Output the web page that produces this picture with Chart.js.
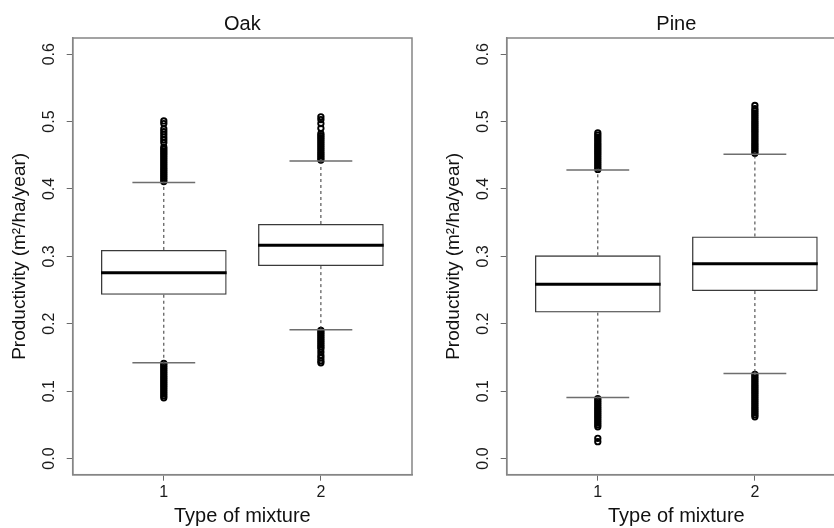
<!DOCTYPE html>
<html>
<head>
<meta charset="utf-8">
<script src="https://cdn.jsdelivr.net/npm/chart.js@4.4.0/dist/chart.umd.min.js"></script>
<style>
  html, body { margin: 0; padding: 0; background: #fff; overflow: hidden; }
  #wrap { position: relative; width: 834px; height: 528px; overflow: hidden; }
  .panel { position: absolute; top: 0; width: 434px; height: 528px; }
</style>
</head>
<body>
<div id="wrap">
  <div class="panel" style="left:0"><canvas id="oak" width="434" height="528"></canvas></div>
  <div class="panel" style="left:434px"><canvas id="pine" width="434" height="528"></canvas></div>
</div>
<script>
// categories and ticks
const mixtureTypes = [1, 2];
const yTicks = [0, 0.1, 0.2, 0.3, 0.4, 0.5, 0.6];

// Oak box stats (per mixture type)
const oakLower = [0.142, 0.191];
const oakQ1 = [0.243, 0.2855];
const oakMedian = [0.2755, 0.3165];
const oakQ3 = [0.3095, 0.348];
const oakUpper = [0.4095, 0.4415];
const oakOutliers1 = [0.411, 0.414, 0.417, 0.420, 0.423, 0.426, 0.429, 0.432, 0.435, 0.438, 0.441, 0.444,
  0.447, 0.450, 0.453, 0.456, 0.459, 0.462, 0.469, 0.473, 0.477, 0.481, 0.485, 0.489, 0.497, 0.501,
  0.141, 0.138, 0.135, 0.132, 0.129, 0.126, 0.123, 0.120, 0.117, 0.114, 0.111, 0.108, 0.105, 0.102,
  0.099, 0.096, 0.093, 0.090];
const oakOutliers2 = [0.443, 0.446, 0.449, 0.452, 0.455, 0.458, 0.461, 0.464, 0.467, 0.470, 0.473, 0.476,
  0.479, 0.482, 0.490, 0.497, 0.503, 0.507,
  0.190, 0.187, 0.184, 0.181, 0.178, 0.175, 0.172, 0.169, 0.166, 0.163, 0.158, 0.153, 0.149, 0.145, 0.142];

// Pine box stats
const pineLower = [0.0905, 0.126];
const pineQ1 = [0.2165, 0.2485];
const pineMedian = [0.2585, 0.289];
const pineQ3 = [0.3015, 0.3295];
const pineUpper = [0.428, 0.4515];
const pineOutliers1 = [0.429, 0.432, 0.435, 0.438, 0.441, 0.444, 0.447, 0.450, 0.453, 0.456, 0.459, 0.462,
  0.465, 0.468, 0.471, 0.474, 0.477, 0.480, 0.483,
  0.089, 0.086, 0.083, 0.080, 0.077, 0.074, 0.071, 0.068, 0.065, 0.062, 0.059, 0.056, 0.053, 0.050,
  0.047, 0.030, 0.025];
const pineOutliers2 = [0.453, 0.456, 0.459, 0.462, 0.465, 0.468, 0.471, 0.474, 0.477, 0.480, 0.483, 0.486,
  0.489, 0.492, 0.495, 0.498, 0.501, 0.504, 0.507, 0.510, 0.513, 0.516, 0.519, 0.524,
  0.125, 0.122, 0.119, 0.116, 0.113, 0.110, 0.107, 0.104, 0.101, 0.098, 0.095, 0.092, 0.089, 0.086,
  0.083, 0.080, 0.077, 0.074, 0.071, 0.068, 0.065, 0.062];

const BOX_HALF = 0.4;   // half box width in x units (R default boxwex 0.8)
const CAP_HALF = 0.2;   // half staple width
const GAP = { x: null, y: null };

Chart.defaults.font.family = '"Liberation Sans", Arial, Helvetica, sans-serif';
Chart.defaults.color = '#1a1a1a';

// frame around plot + panel title
const framePlugin = {
  id: 'frame',
  afterDraw(chart, args, opts) {
    const { ctx, chartArea: a } = chart;
    ctx.save();
    ctx.strokeStyle = '#858585';
    ctx.lineWidth = 1.5;
    ctx.strokeRect(a.left, a.top, a.right - a.left, a.bottom - a.top);
    ctx.fillStyle = '#111';
    ctx.font = '20px "Liberation Sans", Arial, sans-serif';
    ctx.textAlign = 'center';
    ctx.textBaseline = 'alphabetic';
    ctx.fillText(opts.text, (a.left + a.right) / 2, 29.5);
    ctx.restore();
  }
};

function makeBoxChart(id, title, lower, q1, median, q3, upper, outliers1, outliers2) {
  const whiskers = [], caps = [], medians = [];
  mixtureTypes.forEach((x, i) => {
    whiskers.push({ x, y: q3[i] }, { x, y: upper[i] }, GAP, { x, y: q1[i] }, { x, y: lower[i] }, GAP);
    caps.push({ x: x - CAP_HALF, y: upper[i] }, { x: x + CAP_HALF, y: upper[i] }, GAP,
              { x: x - CAP_HALF, y: lower[i] }, { x: x + CAP_HALF, y: lower[i] }, GAP);
    medians.push({ x: x - BOX_HALF, y: median[i] }, { x: x + BOX_HALF, y: median[i] }, GAP);
  });
  const outlierPoints = outliers1.map(v => ({ x: mixtureTypes[0], y: v }))
    .concat(outliers2.map(v => ({ x: mixtureTypes[1], y: v })));

  new Chart(document.getElementById(id), {
    type: 'bar',
    data: {
      datasets: [
        {
          type: 'line', data: medians, borderColor: '#000', borderWidth: 3,
          pointRadius: 0, spanGaps: false, borderCapStyle: 'butt', order: 0
        },
        {
          type: 'bar', data: mixtureTypes.map((x, i) => ({ x, y: [q1[i], q3[i]] })),
          backgroundColor: 'rgba(255,255,255,0)', borderColor: '#3a3a3a', borderWidth: 1.3,
          borderSkipped: false, categoryPercentage: 2 * BOX_HALF, barPercentage: 1, order: 1
        },
        {
          type: 'line', data: whiskers, borderColor: '#333', borderWidth: 1, borderDash: [3, 3],
          pointRadius: 0, spanGaps: false, order: 2
        },
        {
          type: 'line', data: caps, borderColor: '#6e6e6e', borderWidth: 1.5,
          pointRadius: 0, spanGaps: false, order: 2
        },
        {
          type: 'line', data: outlierPoints, showLine: false, pointStyle: 'circle',
          pointRadius: 2.7, pointBorderWidth: 1.9, pointBorderColor: '#000',
          pointBackgroundColor: 'rgba(255,255,255,0)', order: 3
        }
      ]
    },
    options: {
      responsive: false,
      animation: false,
      layout: { padding: { top: 38, right: 22, bottom: 0, left: 0 } },
      plugins: { legend: { display: false }, tooltip: { enabled: false }, frame: { text: title } },
      scales: {
        x: {
          type: 'linear', min: 0.42, max: 2.58, offset: false,
          afterBuildTicks: s => { s.ticks = mixtureTypes.map(v => ({ value: v })); },
          afterFit: s => { s.height = 53.3; },
          grid: { drawOnChartArea: false, offset: false, tickLength: 6, color: '#6a6a6a' },
          border: { display: true, color: '#858585', width: 1.5 },
          ticks: { font: { size: 16 }, padding: 2, autoSkip: false, maxRotation: 0, callback: v => String(v) },
          title: { display: true, text: 'Type of mixture', font: { size: 20 }, color: '#111', padding: { top: 0, bottom: 0 } }
        },
        y: {
          type: 'linear', min: -0.024, max: 0.624,
          afterBuildTicks: s => { s.ticks = yTicks.map(v => ({ value: v })); },
          afterFit: s => { s.width = 72.7; },
          grid: { drawOnChartArea: false, tickLength: 6, color: '#6a6a6a' },
          border: { display: true, color: '#858585', width: 1.5 },
          ticks: {
            font: { size: 16 }, minRotation: 90, maxRotation: 90, crossAlign: 'center',
            padding: 6, autoSkip: false, callback: v => v.toFixed(1)
          },
          title: { display: true, text: 'Productivity (m²/ha/year)', font: { size: 19 }, color: '#111', padding: { top: 8.6, bottom: 0 } }
        }
      }
    },
    plugins: [framePlugin]
  });
}

makeBoxChart('oak', 'Oak', oakLower, oakQ1, oakMedian, oakQ3, oakUpper, oakOutliers1, oakOutliers2);
makeBoxChart('pine', 'Pine', pineLower, pineQ1, pineMedian, pineQ3, pineUpper, pineOutliers1, pineOutliers2);
</script>
</body>
</html>
